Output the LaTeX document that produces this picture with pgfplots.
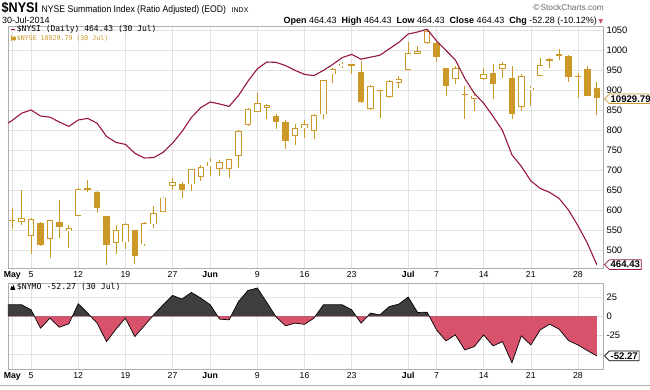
\documentclass[border=0pt]{standalone}
\usepackage{fontspec}
\setmainfont{Liberation Sans}
\newfontfamily\monofont{DejaVu Sans Mono}
\newfontfamily\narrowfont[FakeStretch=0.9]{Liberation Sans}
\newfontfamily\symfont{DejaVu Sans}
\usepackage{pgfplots}
\pgfplotsset{compat=1.18}
\usepackage{pgfplotstable}
\usetikzlibrary{shapes.symbols}

\definecolor{gridc}{RGB}{226,226,226}
\definecolor{framec}{RGB}{175,175,175}
\definecolor{nysic}{RGB}{150,22,62}
\definecolor{gold}{RGB}{204,152,40}
\definecolor{nymopos}{RGB}{62,62,62}
\definecolor{nymoneg}{RGB}{216,82,108}

% NYSE candles (in the NYSI panel units): hollow = close > open
\pgfplotstableread{
i o h l c
0 575 607 554 577
1 572 650 564 580
2 537 580 490 579
4 529 577 480 575
6 549 564 507 555
7 587 655 585 653
11 518 564 490 550
12 520 568 504 566
14 515 572 512 568
15 565 611 555 593
16 597 634 595 632
17 662 682 651 670
19 665 704 649 703
20 683 714 674 708
21 710 730 685 722
22 703 726 687 720
23 703 729 682 728
24 737 800 707 799
25 814 855 812 854
26 846 893 845 868
27 857 866 829 864
30 787 815 764 805
31 805 826 782 815
32 799 841 779 839
33 840 927 829 926
34 940 955 918 954
35 962 970 955 967
36 963 965 940 965
38 853 913 850 911
39 899 902 832 901
40 883 926 881 924
41 918 935 905 929
42 951 1022 950 993
43 992 1010 990 999
44 1018 1050 1016 1048
47 929 960 916 955
48 889 910 829 891
49 879 897 849 887
50 929 955 927 940
52 953 972 932 965
54 858 940 849 935
55 901 912 860 907
56 937 980 936 964
57 974 982 955 978
58 988 1004 976 990
}\hollow

\pgfplotstableread{
i o h l c
3 568 570 512 514
5 572 626 530 558
8 657 676 647 650
9 647 649 593 605
10 585 587 464 514
13 550 552 466 487
18 665 672 632 650
28 837 840 804 822
29 820 826 754 774
37 945 974 868 870
45 1018 1020 972 983
46 955 957 887 911
51 943 965 879 916
53 932 960 829 840
59 987 989 920 933
60 936 943 882 934
61 954 960 885 887
62 905 920 839 880
}\filled

\pgfplotstableread{
i v
-1 810
0 825
1 843
2 851
3 836
4 833
5 821
6 810
7 826
8 830
9 818
10 785
11 770
12 765
13 743
14 731
15 732
16 745
17 768
18 797
19 832
20 857
21 871
22 866
23 860
24 887
25 923
26 954
27 971
28 970
29 962
30 950
31 940
32 937
33 950
34 965
35 982
36 990
37 978
38 983
39 988
40 1004
41 1020
42 1041
43 1046
44 1053
45 1024
46 1000
47 976
48 930
49 893
50 868
51 835
52 800
53 739
54 710
55 674
56 655
57 645
58 630
59 601
60 562
61 518
62 464.43
}\nysi

\pgfplotstableread{
i v
-1 15.4
0 15.4
1 15.4
2 8.8
3 -15.6
4 -2.3
5 -14.3
6 -9.8
7 16.8
8 4.4
9 -8.9
10 -33.4
11 -16.9
12 -2.3
13 -26.7
14 -12.5
15 2.1
16 15.4
17 27.8
18 23
19 31.8
20 24.3
21 15.4
22 -3.6
23 -4.5
24 19.8
25 34.4
26 37.6
27 18.5
28 -0.9
29 -12.5
30 -8.9
31 -10.5
32 -2.3
33 15.4
34 15.4
35 15.4
36 8.8
37 -8.9
38 4.4
39 2.1
40 13.2
41 16.3
42 25.6
43 5.2
44 5.7
45 -17.8
46 -32.4
47 -24.5
48 -44.4
49 -40
50 -24.5
51 -39.1
52 -33.4
53 -61.3
54 -25.8
55 -37.8
56 -17.8
57 -10.2
58 -16.9
59 -32
60 -37.8
61 -45.3
62 -52.27
}\nymo

% same series closed on the zero line at both ends, for the area fill
\pgfplotstableread{
i v
-1 0
-1 15.4
0 15.4
1 15.4
2 8.8
3 -15.6
4 -2.3
5 -14.3
6 -9.8
7 16.8
8 4.4
9 -8.9
10 -33.4
11 -16.9
12 -2.3
13 -26.7
14 -12.5
15 2.1
16 15.4
17 27.8
18 23
19 31.8
20 24.3
21 15.4
22 -3.6
23 -4.5
24 19.8
25 34.4
26 37.6
27 18.5
28 -0.9
29 -12.5
30 -8.9
31 -10.5
32 -2.3
33 15.4
34 15.4
35 15.4
36 8.8
37 -8.9
38 4.4
39 2.1
40 13.2
41 16.3
42 25.6
43 5.2
44 5.7
45 -17.8
46 -32.4
47 -24.5
48 -44.4
49 -40
50 -24.5
51 -39.1
52 -33.4
53 -61.3
54 -25.8
55 -37.8
56 -17.8
57 -10.2
58 -16.9
59 -32
60 -37.8
61 -45.3
62 -52.27
62 0
}\nymofill

\pgfplotsset{
  panel/.style={
    scale only axis, width=595pt, anchor=south west,
    xmin=-0.45, xmax=62.66,
    axis line style={framec, line width=0.6pt},
    grid=major, grid style={gridc, line width=0.5pt},
    xtick={0,2,7,12,17,21,26,31,36,42,45,50,55,60},
    xticklabels={\textbf{May},5,12,19,27,\textbf{Jun},9,16,23,\textbf{Jul},7,14,21,28},
    yticklabel pos=right,
    major tick length=0pt,
    xticklabel style={font=\fontsize{8.7}{8.7}\selectfont},
    yticklabel style={font=\fontsize{9.4}{9.4}\selectfont},
    /pgf/number format/assume math mode=true,
    /pgf/number format/1000 sep={},
  },
  over/.style={scale only axis, width=595pt, anchor=south west,
    xmin=-0.45, xmax=62.66, hide axis},
  wick/.style={draw=none, mark=none, forget plot,
    error bars/.cd, y dir=both, y explicit, error mark=none,
    error bar style={draw=gold, line width=0.8pt}},
  body/.style 2 args={draw=none, mark=none, forget plot,
    error bars/.cd, y dir=both, y explicit, error mark=none,
    error bar style={draw=#1, line width=#2}},
}
\tikzset{
  vbox/.style={signal, signal to=west, fill=white, line width=0.7pt,
    inner xsep=1.3pt, inner ysep=1.4pt, anchor=west,
    font=\bfseries\fontsize{9.6}{9.6}\selectfont},
}

\begin{document}
\begin{tikzpicture}[x=1pt,y=1pt]
\path[use as bounding box] (0,0) rectangle (650,389);

% ---------- header ----------
\node[anchor=base west, inner sep=0] at (1.5,376.3) {\narrowfont\bfseries\fontsize{14}{14}\selectfont \$NYSI};
\node[anchor=base west, inner sep=0] at (41.5,376) {\narrowfont\fontsize{9.6}{9.6}\selectfont NYSE Summation Index (Ratio Adjusted) (EOD)};
\node[anchor=base west, inner sep=0] at (231.5,376) {\fontsize{7}{7}\selectfont INDX};
\node[anchor=base east, inner sep=0, text=black!60] at (604,378) {\fontsize{8.3}{8.3}\selectfont \symfont ©\normalfont StockCharts.com};
\node[anchor=base west, inner sep=0] at (2,365) {\fontsize{9}{9}\selectfont 30-Jul-2014};
\node[anchor=base east, inner sep=0] at (597,365) {\fontsize{9}{9}\selectfont \textbf{Open} 464.43\ \ \textbf{High} 464.43\ \ \textbf{Low} 464.43\ \ \textbf{Close} 464.43\ \ \textbf{Chg} -52.28 (-10.12\%)};
\node[anchor=base west, inner sep=0, text=nymoneg!90!black] at (598.5,365.5) {\symfont\fontsize{6}{6}\selectfont ▼};

% ---------- top panel ----------
\begin{axis}[panel, at={(8pt,121pt)}, height=242pt,
  ymin=456, ymax=1061, ytick={500,550,...,1050}]
  \addplot[wick] table[x=i, y expr={(\thisrow{h}+\thisrow{l})/2},
      y error expr={(\thisrow{h}-\thisrow{l})/2}] {\hollow};
  \addplot[wick] table[x=i, y expr={(\thisrow{h}+\thisrow{l})/2},
      y error expr={(\thisrow{h}-\thisrow{l})/2}] {\filled};
  \addplot[body={gold}{6.4pt}] table[x=i, y expr={(\thisrow{o}+\thisrow{c})/2},
      y error expr={max(abs(\thisrow{o}-\thisrow{c})/2,1)}] {\hollow};
  \addplot[body={white}{4.6pt}] table[x=i, y expr={(\thisrow{o}+\thisrow{c})/2},
      y error expr={max(abs(\thisrow{o}-\thisrow{c})/2-2.2,0)}] {\hollow};
  \addplot[body={gold}{6.4pt}] table[x=i, y expr={(\thisrow{o}+\thisrow{c})/2},
      y error expr={max(abs(\thisrow{o}-\thisrow{c})/2,1)}] {\filled};
  \addplot[nysic, line width=1.1pt, mark=none] table[x=i, y=v] {\nysi};
  \coordinate (b1) at (axis cs:62.66,879);
  \coordinate (b2) at (axis cs:62.66,464.43);
\end{axis}

% legend top
\draw[nysic, line width=1.3pt] (10.5,359.3) -- (15,359.3);
\node[anchor=west, inner sep=0] at (16.7,359.3) {\monofont\fontsize{8}{8}\selectfont \$NYSI (Daily) 464.43 (30 Jul)};
\draw[gold, line width=0.5pt] (11.5,347.5) -- (11.5,353.5);
\fill[gold] (10.5,348.8) rectangle (12.5,352.2);
\draw[gold, line width=0.5pt] (14.3,348) -- (14.3,353);
\draw[gold, line width=0.5pt] (13.4,349.3) rectangle (15.2,351.7);
\node[anchor=west, inner sep=0, text=gold] at (16.7,350.7) {\monofont\fontsize{6.6}{6.6}\selectfont \$NYSE 10929.79 (30 Jul)};

\node[vbox, draw=gold] at ([xshift=1pt]b1) {10929.79};
\node[vbox, draw=nysic] at ([xshift=1pt]b2) {464.43};

% ---------- bottom panel ----------
\begin{axis}[panel, at={(8pt,20pt)}, height=86pt,
  ymin=-69.7, ymax=44.3, ytick={-50,-25,0,25}, yticklabels={,-25,0,25}]
\end{axis}
\begin{axis}[over, at={(8pt,72.58pt)}, height=33.42pt, ymin=0, ymax=44.3]
  \addplot[fill=nymopos, draw=none, mark=none] table[x=i, y=v] {\nymofill} -- cycle;
\end{axis}
\begin{axis}[over, at={(8pt,20pt)}, height=52.58pt, ymin=-69.7, ymax=0]
  \addplot[fill=nymoneg, draw=none, mark=none] table[x=i, y=v] {\nymofill} -- cycle;
\end{axis}
\begin{axis}[over, at={(8pt,20pt)}, height=86pt, ymin=-69.7, ymax=44.3]
  \addplot[black, line width=0.7pt, mark=none] table[x=i, y=v] {\nymo};
  \coordinate (b3) at (axis cs:62.66,-52.27);
\end{axis}

% legend bottom
\fill[black] (10.3,99.2) -- (11.6,103.2) -- (12.6,101.4) -- (13.7,104.3) -- (15.2,99.2) -- cycle;
\node[anchor=west, inner sep=0] at (16.7,101.7) {\monofont\fontsize{8.2}{8.2}\selectfont \$NYMO -52.27 (30 Jul)};

\node[vbox, draw=black] at ([xshift=1pt]b3) {-52.27};

\draw[black!30, line width=0.8pt] (0,4) -- (650,4);
\end{tikzpicture}
\end{document}
